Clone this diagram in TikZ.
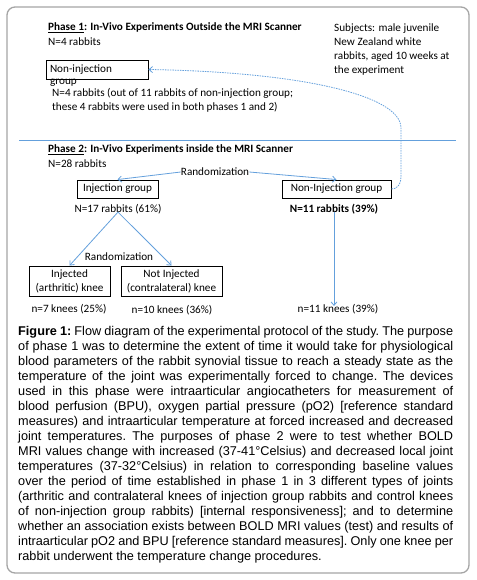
\documentclass[tikz,border=0pt]{standalone}
\usepackage{fontspec}
\setmainfont{Carlito}
\newfontfamily\capfont{Liberation Sans}
\usepackage{xcolor}
\usepackage{tikz}
\usetikzlibrary{arrows.meta,positioning}

\definecolor{lineblue}{RGB}{100,160,220}
\definecolor{framegray}{RGB}{165,165,165}

\begin{document}
\begin{tikzpicture}[
      x=1pt, y=-1pt,
      font=\fontsize{11.2}{14}\selectfont,
      box/.style={draw, line width=0.9pt, minimum height=18pt, inner sep=2pt, align=center},
      txt/.style={inner sep=0pt, align=left},
      arr/.style={draw=lineblue, line width=0.8pt, -{Straight Barb[length=3.5pt,width=6pt]}},
      dasharr/.style={draw=lineblue, line width=0.8pt, dash pattern=on 1.5pt off 1pt,
                      -{Straight Barb[length=3.5pt,width=6pt]}}
    ]
    \useasboundingbox (0,0) rectangle (476,580);
    \draw[framegray, line width=1.3pt, rounded corners=8pt] (7,7) rectangle (469,573);

    % Phase 1
    \node[txt, anchor=west, font=\fontsize{11.2}{14}\bfseries] (p1title) at (48,27.5)
      {\underline{Phase 1}: In-Vivo Experiments Outside the MRI Scanner};
    \node[txt, anchor=west] (p1n) at (48,42) {N=4 rabbits};
    \node[txt, anchor=north west] (subj) at (334,23.5)
      {Subjects: male juvenile\\New Zealand white\\rabbits, aged 10 weeks at\\the experiment};
    \node[box, minimum width=102pt, minimum height=19pt, text width=94pt, align=left] (p1box) at (97,69.5) {Non-injection};
    \node[txt, anchor=base west] (p1grp) at (50,84.5) {group};
    \node[txt, anchor=north west] (p1note) at (52,88.5)
      {N=4 rabbits (out of 11 rabbits of non-injection group;\\these 4 rabbits were used in both phases 1 and 2)};

    \draw[lineblue, line width=0.8pt] (19,140.5) -- (456,140.5);

    % Phase 2
    \node[txt, anchor=west, font=\fontsize{11.2}{14}\bfseries] (p2title) at (48,150)
      {\underline{Phase 2}: In-Vivo Experiments inside the MRI Scanner};
    \node[txt, anchor=west] (p2n) at (48,164) {N=28 rabbits};
    \node[txt] (rand1) at (215,172) {Randomization};

    \node[box, minimum width=81pt] (inj) at (117.5,189) {Injection group};
    \node[txt] (injN) at (118,209) {N=17 rabbits (61\%)};
    \node[box, minimum width=109pt] (ninj) at (336.5,189) {Non-Injection group};
    \node[txt, font=\fontsize{11.2}{14}\bfseries] (ninjN) at (334,209) {N=11 rabbits (39\%)};

    \node[txt] (rand2) at (119,257) {Randomization};
    \node[box, minimum width=81pt, minimum height=30pt, inner sep=1pt] (knee1) at (69.5,281) {Injected\\(arthritic) knee};
    \node[box, minimum width=101pt, minimum height=30pt, inner sep=1pt] (knee2) at (171.5,281) {Not Injected\\(contralateral) knee};
    \node[txt] (nk7) at (69,309) {n=7 knees (25\%)};
    \node[txt] (nk10) at (172,310) {n=10 knees (36\%)};
    \node[txt] (nk11) at (338,309) {n=11 knees (39\%)};

    \draw[arr] (rand1.west) -- (inj.north);
    \draw[arr] (rand1.east) -- (ninj.north);
    \draw[arr] ([yshift=2pt]injN.south) -- (knee1.north);
    \draw[arr] ([yshift=2pt]injN.south) -- (knee2.north);
    \draw[arr] ([yshift=2pt]ninjN.south) -- ([yshift=-2pt]ninjN.south |- nk11.north);
    \draw[dasharr] (ninj.east) .. controls (396,189) and (401,186) .. (401,176)
      -- (401,128) .. controls (401,95) and (300,72) .. (p1box.east);

    % caption
    \node[anchor=north west, inner sep=0pt, text width=435pt, align=justify,
          font=\capfont\fontsize{12.7}{15}\selectfont] (cap) at (18,326.5)
      {\frenchspacing\hyphenpenalty=10000\tolerance=9999
       \textbf{Figure 1:} Flow diagram of the experimental protocol of the study. The purpose\linebreak
       of phase 1 was to determine the extent of time it would take for physiological\linebreak
       blood parameters of the rabbit synovial tissue to reach a steady state as the\linebreak
       temperature of the joint was experimentally forced to change. The devices\linebreak
       used in this phase were intraarticular angiocatheters for measurement of\linebreak
       blood perfusion (BPU), oxygen partial pressure (pO2) [reference standard\linebreak
       measures) and intraarticular temperature at forced increased and decreased\linebreak
       joint temperatures. The purposes of phase 2 were to test whether BOLD\linebreak
       MRI values change with increased (37-41°Celsius) and decreased local joint\linebreak
       temperatures (37-32°Celsius) in relation to corresponding baseline values\linebreak
       over the period of time established in phase 1 in 3 different types of joints\linebreak
       (arthritic and contralateral knees of injection group rabbits and control knees\linebreak
       of non-injection group rabbits) [internal responsiveness]; and to determine\linebreak
       whether an association exists between BOLD MRI values (test) and results of\linebreak
       intraarticular pO2 and BPU [reference standard measures]. Only one knee per\linebreak
       rabbit underwent the temperature change procedures.};
  \end{tikzpicture}
\end{document}
